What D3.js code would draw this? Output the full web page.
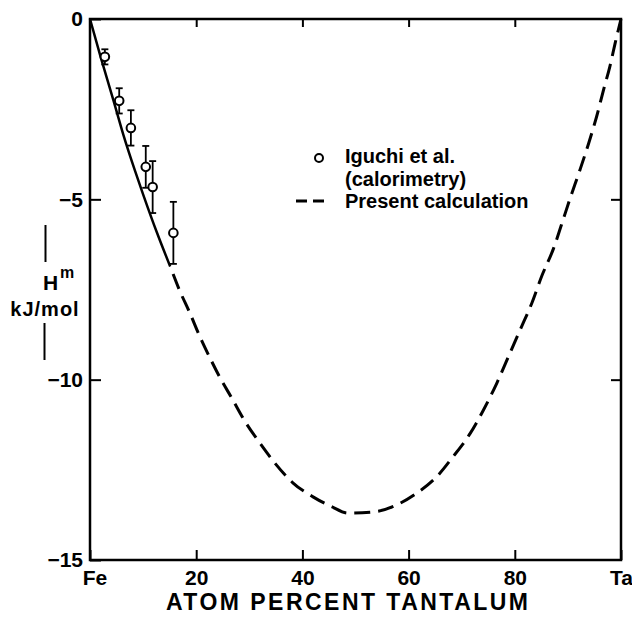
<!DOCTYPE html>
<html>
<head>
<meta charset="utf-8">
<script src="https://cdnjs.cloudflare.com/ajax/libs/d3/7.8.5/d3.min.js"></script>
<style>
  body { margin: 0; background: #fff; }
  svg text { font-family: "Liberation Sans", Arial, sans-serif; font-weight: bold; fill: #000; }
</style>
</head>
<body>
<svg id="graph" width="632" height="619"></svg>
<script>
// Iguchi et al. calorimetry points (at% Ta, kJ/mol) and their error half-widths
var expX = [2.8, 5.5, 7.7, 10.5, 11.8, 15.7];
var expY = [-1.05, -2.27, -3.02, -4.10, -4.66, -5.93];
var expErr = [0.21, 0.35, 0.49, 0.58, 0.72, 0.86];

// present calculation
var curveX = [0, 2.0, 4.4, 6.3, 8.5, 10.0, 12.6, 15.1, 16.8, 18.8, 20.7, 22.6, 24.5, 26.7, 29.2, 32.0, 34.8, 38.2, 42.0, 45.5, 48.6, 53.7, 57.8, 61.5, 65.3, 68.4, 71.6, 74.1, 76.6, 78.8, 81.0, 83.2, 85.1, 87.3, 88.8, 90.4, 92.3, 93.9, 95.4, 96.7, 97.9, 98.9, 100];
var curveY = [0, -1.05, -2.25, -3.22, -4.22, -4.86, -5.92, -6.86, -7.50, -8.15, -8.81, -9.40, -9.95, -10.51, -11.16, -11.76, -12.31, -12.86, -13.25, -13.52, -13.70, -13.66, -13.47, -13.15, -12.69, -12.13, -11.49, -10.84, -10.10, -9.36, -8.62, -7.88, -7.12, -6.36, -5.70, -4.98, -4.17, -3.45, -2.71, -1.97, -1.32, -0.67, 0];
var solidEnd = 7; // index where the calculated curve turns dashed

var xTicks = [0, 20, 40, 60, 80, 100];
var xTickLabels = ['Fe', '20', '40', '60', '80', 'Ta'];
var yTicks = [0, -5, -10, -15];
var yTickLabels = ['0', '\u22125', '\u221210', '\u221215'];

var legendLabels = ['Iguchi et al.', '(calorimetry)', 'Present calculation'];
var xTitle = 'ATOM PERCENT TANTALUM';

graph = {
  WIDTH: 632,
  HEIGHT: 619,
  MARGINS: { top: 19, right: 11, bottom: 59, left: 90 },

  init: function () {
    var m = graph.MARGINS;
    graph.vis = d3.select('#graph');
    graph.x = d3.scaleLinear().domain([0, 100]).range([m.left, graph.WIDTH - m.right]);
    graph.y = d3.scaleLinear().domain([-15, 0]).range([graph.HEIGHT - m.bottom, m.top]);

    graph.drawAxes();
    graph.drawCurve();
    graph.drawPoints();
    graph.drawLegend();
    graph.drawLabels();
  },

  drawAxes: function () {
    var vis = graph.vis, x = graph.x, y = graph.y, m = graph.MARGINS;
    var bottom = graph.HEIGHT - m.bottom, right = graph.WIDTH - m.right;

    vis.append('g')
      .attr('transform', 'translate(0,' + bottom + ')')
      .call(d3.axisBottom(x).tickValues(xTicks).tickSize(-10).tickPadding(10)
        .tickFormat(function (d, i) { return xTickLabels[i]; }));

    vis.append('g')
      .attr('transform', 'translate(0,' + m.top + ')')
      .call(d3.axisTop(x).tickValues(xTicks.slice(1, -1)).tickSize(-8).tickFormat(''));

    vis.append('g')
      .attr('transform', 'translate(' + m.left + ',0)')
      .call(d3.axisLeft(y).tickValues(yTicks).tickSize(-11).tickPadding(7)
        .tickFormat(function (d, i) { return yTickLabels[i]; }));

    vis.append('g')
      .attr('transform', 'translate(' + right + ',0)')
      .call(d3.axisRight(y).tickValues(yTicks.slice(1, -1)).tickSize(-10).tickFormat(''));

    vis.selectAll('.domain').remove();
    vis.selectAll('.tick line').attr('stroke', '#000').attr('stroke-width', 2);
    vis.selectAll('.tick text').style('font-size', '21px');
    vis.selectAll('.tick text').filter(function () { return this.textContent === 'Fe'; })
      .attr('dx', 4.5);

    // frame
    vis.append('rect')
      .attr('x', m.left).attr('y', m.top)
      .attr('width', right - m.left).attr('height', bottom - m.top)
      .attr('fill', 'none').attr('stroke', '#000').attr('stroke-width', 2.5);
  },

  drawCurve: function () {
    var pts = curveX.map(function (d, i) { return [d, curveY[i]]; });
    var lineGen = d3.line()
      .x(function (d) { return graph.x(d[0]); })
      .y(function (d) { return graph.y(d[1]); })
      .curve(d3.curveMonotoneX);

    graph.vis.append('path')
      .attr('d', lineGen(pts.slice(0, solidEnd + 1)))
      .attr('stroke', '#000').attr('stroke-width', 2.5).attr('fill', 'none');

    graph.vis.append('path')
      .attr('d', lineGen(pts.slice(solidEnd)))
      .attr('stroke', '#000').attr('stroke-width', 3).attr('fill', 'none')
      .attr('stroke-dasharray', '16,8').attr('stroke-dashoffset', 16);
  },

  drawPoints: function () {
    var x = graph.x, y = graph.y;
    var g = graph.vis.append('g').attr('stroke', '#000');

    expX.forEach(function (d, i) {
      var cx = x(d), top = y(expY[i] + expErr[i]), bot = y(expY[i] - expErr[i]);
      g.append('line').attr('x1', cx).attr('x2', cx).attr('y1', top).attr('y2', bot).attr('stroke-width', 1.8);
      g.append('line').attr('x1', cx - 3.5).attr('x2', cx + 3.5).attr('y1', top).attr('y2', top).attr('stroke-width', 1.8);
      g.append('line').attr('x1', cx - 3.5).attr('x2', cx + 3.5).attr('y1', bot).attr('y2', bot).attr('stroke-width', 1.8);
      g.append('circle').attr('cx', cx).attr('cy', y(expY[i])).attr('r', 4.3)
        .attr('fill', '#fff').attr('stroke-width', 2);
    });
  },

  drawLegend: function () {
    var vis = graph.vis;
    var lg = vis.append('g').attr('transform', 'translate(345,163)');

    lg.append('circle').attr('cx', -26).attr('cy', -5).attr('r', 4)
      .attr('fill', '#fff').attr('stroke', '#000').attr('stroke-width', 2);
    lg.append('line').attr('x1', -49).attr('x2', -21).attr('y1', 38).attr('y2', 38)
      .attr('stroke', '#000').attr('stroke-width', 3).attr('stroke-dasharray', '11,6');

    lg.selectAll('text.leg')
      .data(legendLabels)
      .enter().append('text')
      .attr('class', 'leg')
      .attr('x', 0)
      .attr('y', function (d, i) { return i * 22.5; })
      .style('font-size', '20px')
      .text(function (d) { return d; });
  },

  drawLabels: function () {
    var vis = graph.vis;

    vis.append('text')
      .attr('x', 166).attr('y', 610)
      .attr('textLength', 362).attr('lengthAdjust', 'spacing')
      .style('font-size', '23px')
      .text(xTitle);

    // y label: bar, H^m, kJ/mol, bar
    vis.append('line').attr('x1', 45.5).attr('x2', 45.5).attr('y1', 225).attr('y2', 262)
      .attr('stroke', '#000').attr('stroke-width', 2);
    vis.append('line').attr('x1', 44.5).attr('x2', 44.5).attr('y1', 323).attr('y2', 360)
      .attr('stroke', '#000').attr('stroke-width', 2);
    vis.append('text').attr('x', 43).attr('y', 290).style('font-size', '21px').text('H');
    vis.append('text').attr('x', 60).attr('y', 278).style('font-size', '16px').text('m');
    vis.append('text').attr('x', 45).attr('y', 316).attr('text-anchor', 'middle')
      .style('font-size', '20px').style('letter-spacing', '1px').text('kJ/mol');
  }
};

graph.init();
</script>
</body>
</html>
